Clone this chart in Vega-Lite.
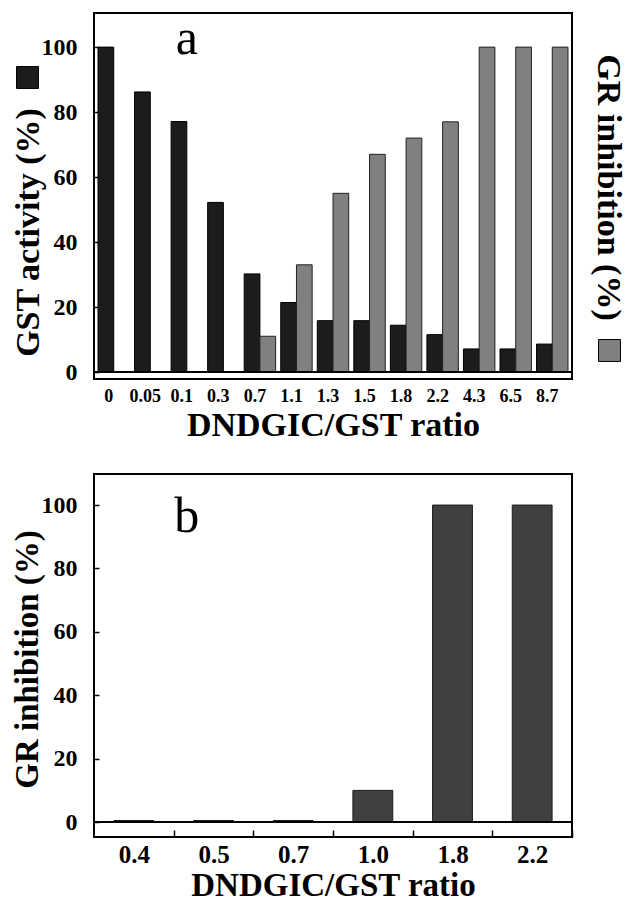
{
  "$schema": "https://vega.github.io/schema/vega-lite/v6.json",
  "padding": {"left": 10, "top": 12, "right": 0, "bottom": 0},
  "background": "white",
  "config": {
    "font": "Liberation Serif",
    "view": {"stroke": "black", "strokeWidth": 2},
    "axis": {
      "labelFont": "Liberation Serif", "labelFontWeight": "bold", "labelColor": "black",
      "titleFont": "Liberation Serif", "titleFontWeight": "bold", "titleColor": "black",
      "grid": false, "domain": false, "tickColor": "black", "tickWidth": 1.5
    },
    "concat": {"spacing": 30}
  },
  "datasets": {
    "gst": [
      {"ratio": "0", "series": "GST", "value": 100},
      {"ratio": "0.05", "series": "GST", "value": 86.2},
      {"ratio": "0.1", "series": "GST", "value": 77.1},
      {"ratio": "0.3", "series": "GST", "value": 52.2},
      {"ratio": "0.7", "series": "GST", "value": 30.2},
      {"ratio": "1.1", "series": "GST", "value": 21.4},
      {"ratio": "1.3", "series": "GST", "value": 15.8},
      {"ratio": "1.5", "series": "GST", "value": 15.8},
      {"ratio": "1.8", "series": "GST", "value": 14.4},
      {"ratio": "2.2", "series": "GST", "value": 11.5},
      {"ratio": "4.3", "series": "GST", "value": 7.1},
      {"ratio": "6.5", "series": "GST", "value": 7.1},
      {"ratio": "8.7", "series": "GST", "value": 8.6}
    ],
    "gr": [
      {"ratio": "0.7", "series": "GR", "value": 11},
      {"ratio": "1.1", "series": "GR", "value": 33},
      {"ratio": "1.3", "series": "GR", "value": 55},
      {"ratio": "1.5", "series": "GR", "value": 67},
      {"ratio": "1.8", "series": "GR", "value": 72},
      {"ratio": "2.2", "series": "GR", "value": 77},
      {"ratio": "4.3", "series": "GR", "value": 100},
      {"ratio": "6.5", "series": "GR", "value": 100},
      {"ratio": "8.7", "series": "GR", "value": 100}
    ],
    "grb": [
      {"ratio": "0.4", "value": 0.5},
      {"ratio": "0.5", "value": 0.5},
      {"ratio": "0.7", "value": 0.5},
      {"ratio": "1.0", "value": 10},
      {"ratio": "1.8", "value": 100},
      {"ratio": "2.2", "value": 100}
    ]
  },
  "vconcat": [
    {
      "width": 478,
      "height": 366,
      "resolve": {"scale": {"y": "independent", "fill": "independent"}, "legend": {"fill": "independent"}},
      "layer": [
        {
          "data": {"name": "gst"},
          "mark": {"type": "bar", "stroke": "black", "strokeWidth": 1},
          "encoding": {
            "x": {
              "field": "ratio", "type": "nominal",
              "sort": ["0", "0.05", "0.1", "0.3", "0.7", "1.1", "1.3", "1.5", "1.8", "2.2", "4.3", "6.5", "8.7"],
              "scale": {"paddingInner": 0.14, "paddingOuter": 0.11},
              "axis": {
                "title": "DNDGIC/GST ratio", "labelAngle": 0, "labelFontSize": 18,
                "ticks": false, "labelPadding": 8, "labelOffset": -5,
                "titleFontSize": 34, "titlePadding": 3
              }
            },
            "xOffset": {"field": "series", "type": "nominal", "scale": {"domain": ["GST", "GR"]}},
            "y": {
              "field": "value", "type": "quantitative",
              "scale": {"domain": [-2.15, 110.5], "nice": false, "zero": false},
              "axis": {
                "values": [0, 20, 40, 60, 80, 100], "title": "GST activity (%)",
                "labelFontSize": 24, "labelPadding": 22, "tickSize": -5,
                "titleFontSize": 34, "titleAngle": -90, "titleX": -66, "titleY": 219,
                "titleAlign": "center", "titleBaseline": "middle"
              }
            },
            "fill": {
              "field": "series", "type": "nominal",
              "scale": {"domain": ["GST"], "range": ["#1c1c1c"]},
              "legend": {
                "title": null, "orient": "none", "legendX": -78, "legendY": 53,
                "symbolType": "square", "symbolSize": 480, "symbolStrokeColor": "black",
                "symbolStrokeWidth": 1, "labelExpr": "''", "padding": 0
              }
            }
          }
        },
        {
          "data": {"name": "gr"},
          "mark": {"type": "bar", "stroke": "#222222", "strokeWidth": 1},
          "encoding": {
            "x": {"field": "ratio", "type": "nominal",
              "sort": ["0", "0.05", "0.1", "0.3", "0.7", "1.1", "1.3", "1.5", "1.8", "2.2", "4.3", "6.5", "8.7"]},
            "xOffset": {"field": "series", "type": "nominal", "scale": {"domain": ["GST", "GR"]}},
            "y": {
              "field": "value", "type": "quantitative",
              "scale": {"domain": [-2.15, 110.5], "nice": false, "zero": false},
              "axis": {
                "orient": "right", "labels": false, "ticks": false, "domain": false,
                "title": "GR inhibition (%)", "titleFontSize": 34, "titleAngle": 90,
                "titleX": 35, "titleY": 174, "titleAlign": "center", "titleBaseline": "middle"
              }
            },
            "fill": {
              "field": "series", "type": "nominal",
              "scale": {"domain": ["GR"], "range": ["#808080"]},
              "legend": {
                "title": null, "orient": "none", "legendX": 504, "legendY": 326,
                "symbolType": "square", "symbolSize": 480, "symbolStrokeColor": "black",
                "symbolStrokeWidth": 1, "labelExpr": "''", "padding": 0
              }
            }
          }
        },
        {
          "data": {"values": [{"value": 0}]},
          "mark": {"type": "rule", "color": "black", "strokeWidth": 2},
          "encoding": {
            "y": {"field": "value", "type": "quantitative",
              "scale": {"domain": [-2.15, 110.5], "nice": false, "zero": false}, "axis": null}
          }
        },
        {
          "data": {"values": [{}]},
          "mark": {"type": "text", "font": "Liberation Serif", "fontSize": 50, "fontWeight": "normal", "baseline": "alphabetic", "align": "center", "color": "black"},
          "encoding": {
            "x": {"datum": "0.1", "type": "nominal"},
            "y": {"datum": 98, "type": "quantitative",
              "scale": {"domain": [-2.15, 110.5], "nice": false, "zero": false}, "axis": null},
            "text": {"value": "a"}
          }
        }
      ]
    },
    {
      "width": 478,
      "height": 363,
      "layer": [
        {
          "data": {"name": "grb"},
          "mark": {"type": "bar", "fill": "#404040", "stroke": "#1a1a1a", "strokeWidth": 1},
          "encoding": {
            "x": {
              "field": "ratio", "type": "nominal",
              "sort": ["0.4", "0.5", "0.7", "1.0", "1.8", "2.2"],
              "scale": {"paddingInner": 0.5, "paddingOuter": 0.25},
              "axis": {
                "title": "DNDGIC/GST ratio", "labelAngle": 0, "labelFontSize": 25,
                "tickSize": -7, "tickOffset": 39.8, "labelOffset": -39.8, "labelPadding": 12,
                "titleFontSize": 33, "titlePadding": 2.5
              }
            },
            "y": {
              "field": "value", "type": "quantitative",
              "scale": {"domain": [-4.7, 109.8], "nice": false, "zero": false},
              "axis": {
                "values": [0, 20, 40, 60, 80, 100], "title": "GR inhibition (%)",
                "labelFontSize": 24, "labelPadding": 22, "tickSize": -5,
                "titleFontSize": 33, "titleAngle": -90, "titleX": -67, "titleY": 185,
                "titleAlign": "center", "titleBaseline": "middle"
              }
            }
          }
        },
        {
          "data": {"values": [{"value": 0}]},
          "mark": {"type": "rule", "color": "black", "strokeWidth": 2},
          "encoding": {
            "y": {"field": "value", "type": "quantitative"}
          }
        },
        {
          "data": {"values": [{}]},
          "mark": {"type": "text", "font": "Liberation Serif", "fontSize": 50, "fontWeight": "normal", "baseline": "alphabetic", "align": "center", "color": "black", "dx": 53},
          "encoding": {
            "x": {"datum": "0.4", "type": "nominal"},
            "y": {"datum": 91.5, "type": "quantitative"},
            "text": {"value": "b"}
          }
        }
      ]
    }
  ]
}
